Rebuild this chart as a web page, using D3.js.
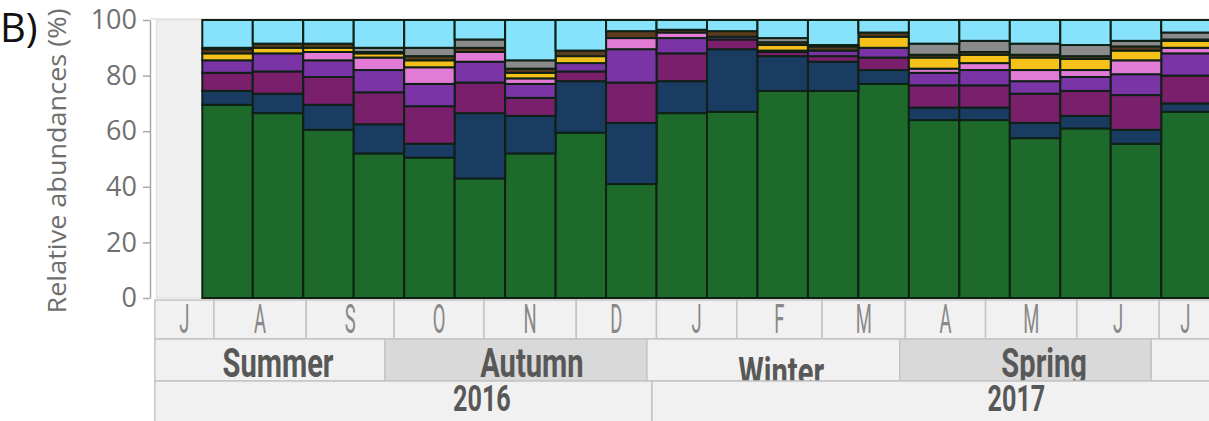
<!DOCTYPE html>
<html>
<head>
<meta charset="utf-8">
<script src="https://cdn.jsdelivr.net/npm/d3@7/dist/d3.min.js"></script>
<style>
  html, body { margin: 0; padding: 0; background: #ffffff; }
  svg { display: block; }
</style>
</head>
<body>
<svg id="chart" width="1209" height="421"></svg>
<script>
// ---- Samples (one stacked bar each), in sampling order ----
const samples = ["S01","S02","S03","S04","S05","S06","S07","S08","S09","S10",
                 "S11","S12","S13","S14","S15","S16","S17","S18","S19","S20"];

// ---- Relative abundances (%) per group, bottom of the stack to top ----
const groupGreen  = [69.5,66.5,60.5,52,50.5,43,52,59.5,41,66.5,67,74.5,74.5,77,64,64,57.5,61,55.5,67];
const groupNavy   = [5,7,9,10.5,5,23.5,13.5,18.5,22,11.5,22.5,12.5,10.5,5,4.5,4.5,5.5,4.5,5,3];
const groupMaroon = [6.5,8,10,11.5,13.5,11,6.5,3.5,14.5,10,3.5,1.5,2,4.5,8,8,10.5,9,12.5,10];
const groupPurple = [4.5,6.5,6,8,8,7.5,5,3,12,5.5,1,0.5,2,3.5,4.5,5.5,4.5,5,7.5,8];
const groupPink   = [0,0,3,4.5,6,3.5,2,0,4,2,0,0,0,0,1.5,2.5,4,2.5,5,2];
const groupGold   = [2.5,2,1.5,1.5,2.5,0,2,2.5,0,0,0,2,0,4,4,3,4.5,4,3.5,2.5];
const groupBrown  = [1.5,1.5,1.5,0.5,1.5,1.5,1.5,2,2.5,1,2,1,1.5,1.5,1,1,1,1,1.5,0.5];
const groupGray   = [0.5,0,0,1.5,3,3,3,0,0,0,0,1.5,0.5,0,4,4,4,4,2,2.5];
const groupCyan   = [10,8.5,8.5,10,10,7,14.5,11,4,3.5,4,6.5,9,4.5,8.5,7.5,8.5,9,7.5,4.5];

const yTicks = [0, 20, 40, 60, 80, 100];

// ---- Calendar strip under the bars (edges in sample units) ----
const months      = ["J","A","S","O","N","D","J","F","M","A","M","J","J"];
const monthEdges  = [-0.94, 0.23, 2.06, 3.80, 5.58, 7.41, 9.00, 10.59, 12.28, 13.93, 15.52, 17.33, 18.96, 20.0];

const seasons       = ["Summer","Autumn","Winter","Spring",""];
const seasonEdges   = [-0.94, 3.62, 8.81, 13.82, 18.80, 21.5];
const seasonLabelAt = [1.50, 6.53, 11.47, 16.68, 20.0];

const years       = ["2016","2017"];
const yearEdges   = [-0.94, 8.91, 21.5];
const yearLabelAt = [5.54, 16.13];

// ---- Build the stack ----
const seriesValues = {
  green: groupGreen, navy: groupNavy, maroon: groupMaroon, purple: groupPurple,
  pink: groupPink, gold: groupGold, brown: groupBrown, gray: groupGray, cyan: groupCyan
};
const seriesKeys = Object.keys(seriesValues);
const fills = {
  green: "#1d6a2a", navy: "#1a3c62", maroon: "#7a1f6c", purple: "#7b34a6",
  pink: "#e17bd5", gold: "#f7c11c", brown: "#5d3c1e", gray: "#8b8b8b", cyan: "#86e3fb"
};
const rows = samples.map((s, i) => {
  const r = { sample: s };
  seriesKeys.forEach(k => { r[k] = seriesValues[k][i]; });
  return r;
});
const stacked = d3.stack().keys(seriesKeys)(rows);

// ---- Scales ----
const svg = d3.select("#chart");
const plotLeft = 202.3, plotRight = 1211.7;
const y = d3.scaleLinear().domain([0, 100]).range([298, 20]);
const x = d3.scaleBand().domain(samples).range([plotLeft, plotRight]).padding(0);
const pos = d3.scaleLinear().domain([0, samples.length]).range([plotLeft, plotRight]);

// faint frame line along the top of the plot
svg.append("line")
  .attr("x1", 150).attr("x2", 1209).attr("y1", 19).attr("y2", 19)
  .attr("stroke", "#e2e2e2").attr("stroke-width", 1.5);

// empty (unsampled) column before the first bar
svg.append("rect")
  .attr("x", pos(monthEdges[0]) + 1.5).attr("y", y(100))
  .attr("width", pos(0) - pos(monthEdges[0]) - 1.5).attr("height", y(0) - y(100))
  .attr("fill", "#efefef").attr("stroke", "#dcdcdc").attr("stroke-width", 1);

// ---- Stacked bars ----
const layer = svg.append("g").selectAll("g")
  .data(stacked).join("g")
  .attr("fill", d => fills[d.key]);

layer.selectAll("rect")
  .data(d => d.filter(p => p[1] - p[0] > 0))
  .join("rect")
  .attr("x", p => x(p.data.sample))
  .attr("width", x.bandwidth())
  .attr("y", p => y(p[1]))
  .attr("height", p => y(p[0]) - y(p[1]))
  .attr("stroke", "#0f2016")
  .attr("stroke-width", 2);

// ---- Y axis ----
const yAxis = svg.append("g")
  .attr("transform", "translate(150,0)")
  .call(d3.axisLeft(y).tickValues(yTicks).tickSize(7).tickSizeOuter(0).tickPadding(6));
yAxis.select(".domain").attr("stroke", "#a8a8a8").attr("stroke-width", 1.5);
yAxis.selectAll(".tick line").attr("stroke", "#a8a8a8").attr("stroke-width", 1.5);
yAxis.selectAll(".tick text")
  .attr("fill", "#707070")
  .style("font-family", "'Open Sans', 'Noto Sans', sans-serif")
  .style("font-size", "27px");

svg.append("text")
  .attr("transform", "translate(66,161) rotate(-90)")
  .attr("text-anchor", "middle")
  .attr("textLength", 305)
  .attr("lengthAdjust", "spacingAndGlyphs")
  .attr("fill", "#6e6e6e")
  .style("font-family", "'Open Sans', 'Noto Sans', sans-serif")
  .style("font-size", "26px")
  .text("Relative abundances (%)");

svg.append("text")
  .attr("x", 0).attr("y", 42)
  .attr("fill", "#111")
  .style("font-family", "'Open Sans', 'Noto Sans', sans-serif")
  .style("font-size", "40px")
  .text("B)");

// ---- Calendar strip ----
const cellStroke = "#c4c4c4";
function drawCells(edges, top, bottom, fillFor) {
  svg.append("g").selectAll("rect")
    .data(edges.slice(0, -1))
    .join("rect")
    .attr("x", (e) => pos(e))
    .attr("width", (e, i) => pos(edges[i + 1]) - pos(e))
    .attr("y", top).attr("height", bottom - top)
    .attr("fill", (e, i) => fillFor(i))
    .attr("stroke", cellStroke).attr("stroke-width", 1.5);
}
function drawLabels(labels, centers, baseline, opts) {
  svg.append("g").selectAll("g")
    .data(labels.map((t, i) => ({ t, c: centers[i] })).filter(d => d.t))
    .join("g")
    .attr("transform", d => `translate(${pos(d.c)},${baseline + (opts.drop[d.t] || 0)})`)
    .append("text")
    .attr("text-anchor", "middle")
    .attr("transform", `scale(${opts.sx},1)`)
    .attr("fill", opts.fill)
    .style("font-family", "Roboto, 'Noto Sans', sans-serif")
    .style("font-weight", opts.weight)
    .style("font-size", opts.size + "px")
    .text(d => d.t);
}

// months
drawCells(monthEdges, 300, 339, () => "#f1f1f1");
drawLabels(months, monthEdges.slice(0, -1).map((e, i) => (e + monthEdges[i + 1]) / 2), 333,
  { sx: 0.45, fill: "#888888", weight: 400, size: 41, drop: {} });

// seasons
drawCells(seasonEdges, 339, 381, i => (i % 2 === 1 ? "#d9d9d9" : "#f1f1f1"));
drawLabels(seasons, seasonLabelAt, 377,
  { sx: 0.71, fill: "#585858", weight: 700, size: 41, drop: { Winter: 9 } });

// years (drawn after seasons so their cells overlap any low season label)
drawCells(yearEdges, 381, 440, () => "#f1f1f1");
drawLabels(years, yearLabelAt, 411,
  { sx: 0.68, fill: "#585858", weight: 700, size: 37, drop: {} });
</script>
</body>
</html>
